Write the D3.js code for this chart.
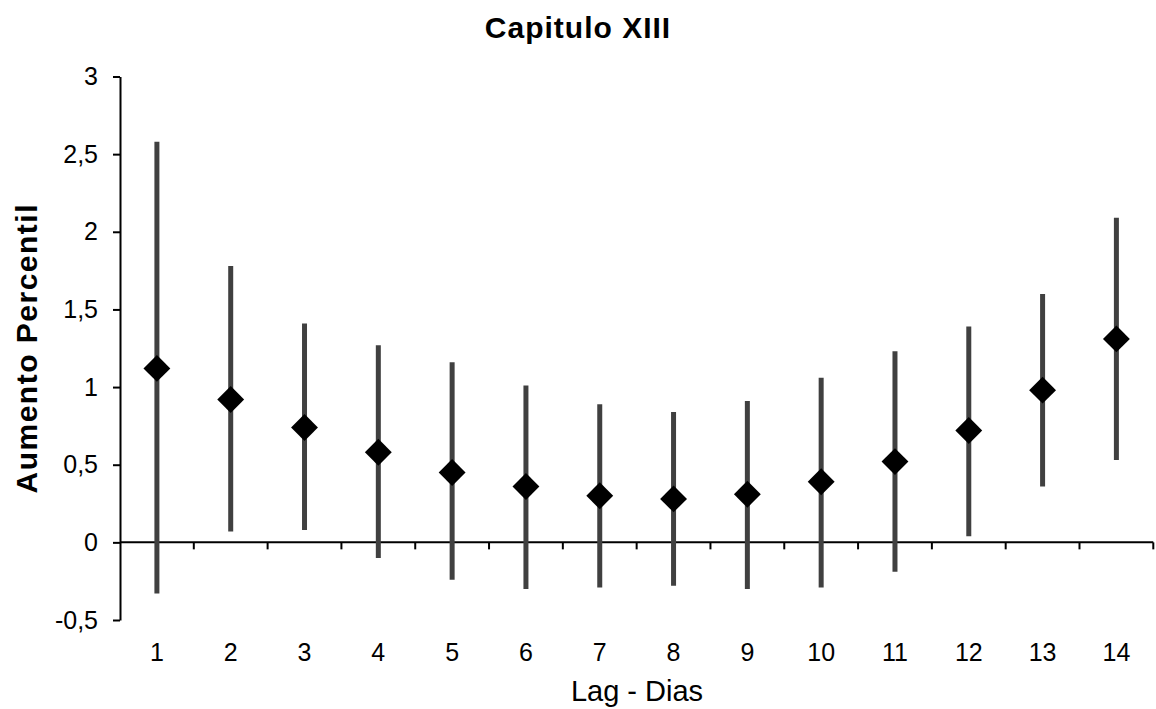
<!DOCTYPE html>
<html>
<head>
<meta charset="utf-8">
<script src="https://cdn.jsdelivr.net/npm/d3@7"></script>
<style>
  html, body { margin: 0; padding: 0; background: #fff; }
  svg { display: block; font-family: "Liberation Sans", Arial, sans-serif; }
</style>
</head>
<body>
<svg id="chart" width="1156" height="709"></svg>
<script>
// Lag in days
const lags = [1, 2, 3, 4, 5, 6, 7, 8, 9, 10, 11, 12, 13, 14];
// Point estimate of the percent increase for each lag
const estimate = [1.12, 0.92, 0.74, 0.58, 0.45, 0.36, 0.30, 0.28, 0.31, 0.39, 0.52, 0.72, 0.98, 1.31];
// Lower and upper confidence limits
const lower = [-0.33, 0.07, 0.08, -0.10, -0.24, -0.30, -0.29, -0.28, -0.30, -0.29, -0.19, 0.04, 0.36, 0.53];
const upper = [2.58, 1.78, 1.41, 1.27, 1.16, 1.01, 0.89, 0.84, 0.91, 1.06, 1.23, 1.39, 1.60, 2.09];
// Y axis ticks
const yTicks = [-0.5, 0, 0.5, 1, 1.5, 2, 2.5, 3];

const rows = lags.map((d, i) => ({ lag: d, est: estimate[i], lo: lower[i], hi: upper[i] }));

const svg = d3.select("#chart");
const plotLeft = 120, plotRight = 1153.3, plotTop = 76.5, plotBottom = 620;

const x = d3.scaleBand().domain(lags).range([plotLeft, plotRight]).padding(0);
const y = d3.scaleLinear().domain([-0.5, 3]).range([plotBottom, plotTop]);

const fmt = v => String(v).replace(".", ",");

// Title
svg.append("text")
  .attr("x", 578).attr("y", 38)
  .attr("text-anchor", "middle")
  .attr("font-size", 30).attr("font-weight", "bold")
  .attr("letter-spacing", 1)
  .text("Capitulo XIII");

// Y axis
const yAxis = svg.append("g")
  .attr("transform", `translate(${plotLeft},0)`)
  .call(d3.axisLeft(y).tickValues(yTicks).tickSize(7).tickSizeOuter(0).tickPadding(15).tickFormat(fmt));
yAxis.select(".domain").attr("stroke", "#000").attr("stroke-width", 2);
yAxis.selectAll(".tick line").attr("stroke", "#000").attr("stroke-width", 2);
yAxis.selectAll(".tick text").attr("font-size", 25).attr("fill", "#000")
  .attr("font-family", "Liberation Sans, Arial, sans-serif");

// X axis on the zero line, ticks between categories
const xAxisG = svg.append("g").attr("transform", `translate(0,${y(0)})`);
xAxisG.append("line")
  .attr("x1", plotLeft).attr("x2", plotRight)
  .attr("stroke", "#000").attr("stroke-width", 2);
const bounds = lags.map(d => x(d) + x.bandwidth());
xAxisG.selectAll("line.sep").data(bounds).join("line")
  .attr("class", "sep")
  .attr("x1", d => d).attr("x2", d => d)
  .attr("y1", 0).attr("y2", 7)
  .attr("stroke", "#000").attr("stroke-width", 2);

// Category labels below the plot
svg.append("g").selectAll("text").data(lags).join("text")
  .attr("x", d => x(d) + x.bandwidth() / 2)
  .attr("y", 661)
  .attr("text-anchor", "middle")
  .attr("font-size", 25)
  .text(d => d);

// Axis titles
svg.append("text")
  .attr("x", 637).attr("y", 701)
  .attr("text-anchor", "middle")
  .attr("font-size", 29)
  .text("Lag - Dias");

svg.append("text")
  .attr("transform", `translate(37,${(plotTop + plotBottom) / 2}) rotate(-90)`)
  .attr("text-anchor", "middle")
  .attr("font-size", 30).attr("font-weight", "bold")
  .attr("letter-spacing", 1.5)
  .text("Aumento Percentil");

const cx = d => x(d.lag) + x.bandwidth() / 2;

// Confidence interval bars
svg.append("g").selectAll("line").data(rows).join("line")
  .attr("x1", cx).attr("x2", cx)
  .attr("y1", d => y(d.hi)).attr("y2", d => y(d.lo))
  .attr("stroke", "#404040").attr("stroke-width", 5);

// Diamond markers at the estimate
const diamond = d3.symbol().type(d3.symbolSquare).size(19 * 19);
svg.append("g").selectAll("path").data(rows).join("path")
  .attr("d", diamond)
  .attr("transform", d => `translate(${cx(d)},${y(d.est)}) rotate(45)`)
  .attr("fill", "#000");
</script>
</body>
</html>
